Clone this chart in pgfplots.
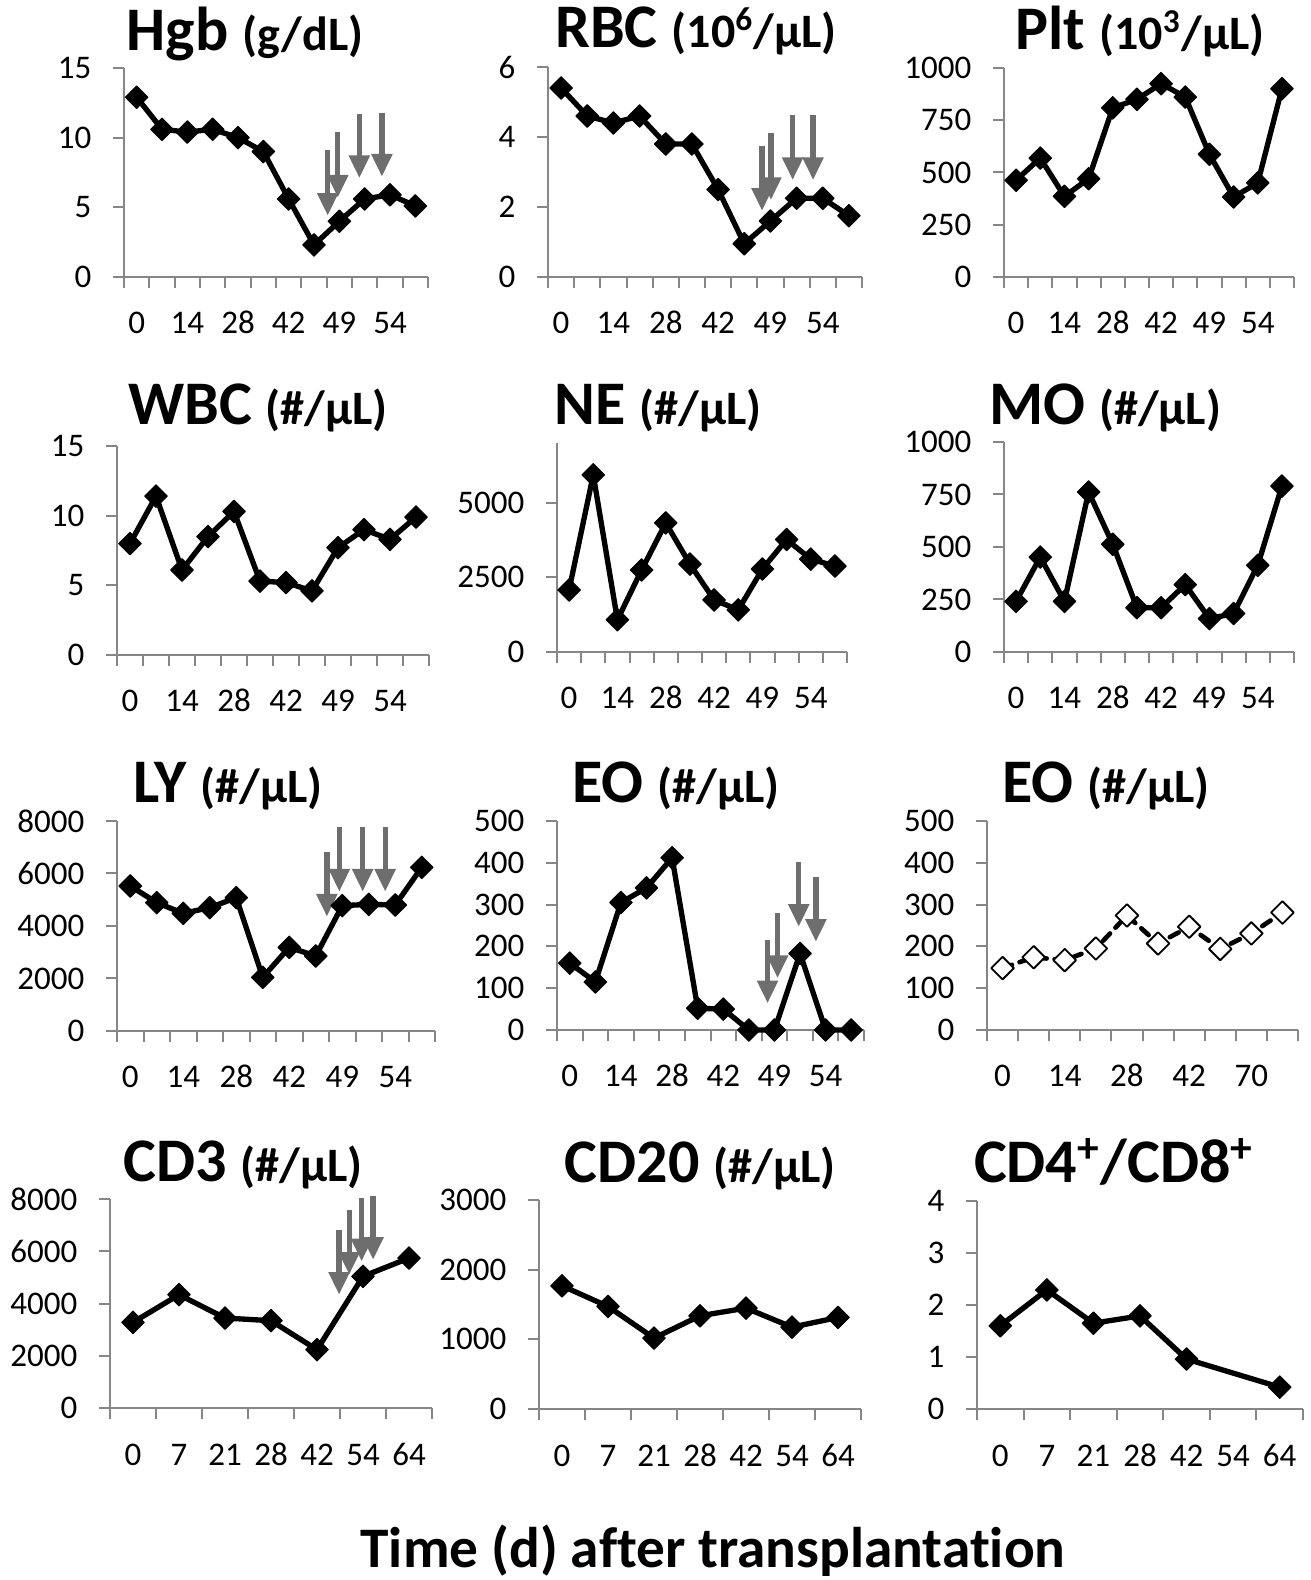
\documentclass[border=0pt]{standalone}
\usepackage{fontspec}
\setmainfont{Carlito}[Ligatures={NoCommon,NoDiscretionary,NoRare}]
\usepackage{pgfplots}
\pgfplotsset{compat=1.18}
\usetikzlibrary{arrows.meta}

\definecolor{axgray}{RGB}{134,134,134}
\definecolor{arrgray}{RGB}{110,110,110}

\newcommand\ttl[2]{{\bfseries\fontsize{18.6}{21}\selectfont #1 \fontsize{14.4}{17}\selectfont #2}}

\tikzset{arr/.style={draw=arrgray, line width=1.6pt, -{Triangle[width=6pt,length=6.8pt]}}}

\pgfplotsset{
  panel/.style={
    scale only axis, anchor=south west, clip=false,
    axis x line*=bottom, axis y line*=left,
    xtick pos=left, ytick pos=left,
    axis line style={axgray, line width=0.6pt},
    tick style={axgray, line width=0.6pt},
    major tick length=3.3pt, minor tick length=3.3pt, tick align=outside,
    major x tick style={draw=none},
    ymin=0,
    tick label style={font=\fontsize{9.9}{11}\selectfont, text=black},
    yticklabel style={anchor=east, inner sep=0pt, xshift=-6.3pt},
    xticklabel style={anchor=base, inner sep=0pt, yshift=-13.8pt},
    /pgf/number format/1000 sep={},
    /pgf/number format/assume math mode=true,
  },
  cat12/.style={xmin=0.5, xmax=12.5, minor xtick={0.5,1.5,...,12.5},
    xtick={1,3,5,7,9,11}, xticklabels={0,14,28,42,49,54}},
  cat10/.style={xmin=0.5, xmax=10.5, minor xtick={0.5,1.5,...,10.5},
    xtick={1,3,5,7,9}, xticklabels={0,14,28,42,70}},
  cat7/.style={xmin=0.5, xmax=7.5, minor xtick={0.5,1.5,...,7.5},
    xtick={1,...,7}, xticklabels={0,7,21,28,42,54,64}},
  dat/.style={black, line width=1.6pt, line join=round,
    mark=square*, mark size=2.4pt,
    mark options={rotate=45, solid, line width=0.3pt, fill=black}},
}

\begin{document}
\begin{tikzpicture}
\path[use as bounding box] (0,0) rectangle (393.3pt,474pt);

% row 1
\begin{axis}[panel, cat12, at={(37.2pt,390.9pt)}, width=91.2pt, height=62.7pt,
  ymax=15, ytick={0,5,10,15}]
  \addplot[dat] coordinates {(1,12.9) (2,10.6) (3,10.4) (4,10.6) (5,10.0) (6,9.0)
    (7,5.6) (8,2.3) (9,4.0) (10,5.6) (11,5.9) (12,5.1)};
  \draw[arr] (axis cs:8.54,9.1) -- (axis cs:8.54,4.4);
  \draw[arr] (axis cs:8.94,10.4) -- (axis cs:8.94,5.7);
  \draw[arr] (axis cs:9.79,11.7) -- (axis cs:9.79,7.1);
  \draw[arr] (axis cs:10.68,11.8) -- (axis cs:10.68,7.2);
\end{axis}

\begin{axis}[panel, cat12, at={(164.4pt,390.9pt)}, width=94.2pt, height=63pt,
  ymax=6, ytick={0,2,4,6}]
  \addplot[dat] coordinates {(1,5.4) (2,4.6) (3,4.4) (4,4.6) (5,3.8) (6,3.8)
    (7,2.5) (8,0.95) (9,1.6) (10,2.25) (11,2.25) (12,1.75)};
  \draw[arr] (axis cs:8.68,3.75) -- (axis cs:8.68,1.89);
  \draw[arr] (axis cs:9.02,4.11) -- (axis cs:9.02,2.2);
  \draw[arr] (axis cs:9.85,4.63) -- (axis cs:9.85,2.77);
  \draw[arr] (axis cs:10.63,4.63) -- (axis cs:10.63,2.77);
\end{axis}

\begin{axis}[panel, cat12, at={(301.2pt,390.9pt)}, width=87pt, height=62.7pt,
  ymax=1000, ytick={0,250,500,750,1000}]
  \addplot[dat] coordinates {(1,463) (2,569) (3,386) (4,470) (5,809) (6,850)
    (7,925) (8,861) (9,587) (10,383) (11,450) (12,901)};
\end{axis}

% row 2
\begin{axis}[panel, cat12, at={(35.1pt,277.5pt)}, width=93.6pt, height=62.7pt,
  ymax=15, ytick={0,5,10,15}]
  \addplot[dat] coordinates {(1,8.0) (2,11.4) (3,6.1) (4,8.5) (5,10.3) (6,5.3)
    (7,5.2) (8,4.6) (9,7.7) (10,9.0) (11,8.3) (12,9.9)};
\end{axis}

\begin{axis}[panel, cat12, at={(167.1pt,278.4pt)}, width=87pt, height=62.7pt,
  ymax=7000, ytick={0,2500,5000}]
  \addplot[dat] coordinates {(1,2078) (2,5933) (3,1078) (4,2744) (5,4322) (6,2944)
    (7,1744) (8,1411) (9,2778) (10,3767) (11,3111) (12,2878)};
\end{axis}

\begin{axis}[panel, cat12, at={(301.2pt,278.4pt)}, width=87pt, height=63pt,
  ymax=1000, ytick={0,250,500,750,1000}]
  \addplot[dat] coordinates {(1,241) (2,452) (3,241) (4,762) (5,513) (6,211)
    (7,211) (8,321) (9,159) (10,183) (11,413) (12,790)};
\end{axis}

% row 3
\begin{axis}[panel, cat12, at={(35.1pt,164.7pt)}, width=95.4pt, height=63pt,
  ymax=8000, ytick={0,2000,4000,6000,8000}]
  \addplot[dat] coordinates {(1,5524) (2,4889) (3,4483) (4,4698) (5,5079) (6,2044)
    (7,3187) (8,2857) (9,4775) (10,4825) (11,4800) (12,6235)};
  \draw[arr] (axis cs:8.42,6832) -- (axis cs:8.42,4356);
  \draw[arr] (axis cs:8.89,7784) -- (axis cs:8.89,5308);
  \draw[arr] (axis cs:9.77,7784) -- (axis cs:9.77,5308);
  \draw[arr] (axis cs:10.62,7784) -- (axis cs:10.62,5308);
\end{axis}

\begin{axis}[panel, cat12, at={(167.1pt,165pt)}, width=92.1pt, height=62.7pt,
  ymax=500, ytick={0,100,...,500}]
  \addplot[dat] coordinates {(1,160) (2,115) (3,305) (4,340) (5,412) (6,52)
    (7,50) (8,0) (9,0) (10,183) (11,0) (12,0)};
  \draw[arr] (axis cs:8.73,215) -- (axis cs:8.73,64);
  \draw[arr] (axis cs:9.12,279) -- (axis cs:9.12,124);
  \draw[arr] (axis cs:9.95,403) -- (axis cs:9.95,247);
  \draw[arr] (axis cs:10.62,367) -- (axis cs:10.62,211);
\end{axis}

\begin{axis}[panel, cat10, at={(296.1pt,165pt)}, width=93.3pt, height=62.7pt,
  ymax=500, ytick={0,100,...,500}]
  \addplot[dat, line width=1.4pt, dash pattern=on 3pt off 2.4pt, line cap=round,
    mark options={rotate=45, solid, line width=0.55pt, fill=white, draw=black}]
    coordinates {(1,148) (2,174) (3,167) (4,195) (5,274) (6,207)
    (7,247) (8,194) (9,231) (10,281)};
\end{axis}

% row 4
\begin{axis}[panel, cat7, at={(33pt,51.6pt)}, width=96.6pt, height=62.7pt,
  ymax=8000, ytick={0,2000,4000,6000,8000}]
  \addplot[dat] coordinates {(1,3278) (2,4337) (3,3444) (4,3342) (5,2232)
    (6,5038) (7,5740)};
  \draw[arr] (axis cs:5.48,6824) -- (axis cs:5.48,4337);
  \draw[arr] (axis cs:5.70,7589) -- (axis cs:5.70,5102);
  \draw[arr] (axis cs:5.97,8036) -- (axis cs:5.97,5612);
  \draw[arr] (axis cs:6.22,8099) -- (axis cs:6.22,5676);
\end{axis}

\begin{axis}[panel, cat7, at={(161.7pt,51.3pt)}, width=96.6pt, height=62.7pt,
  ymax=3000, ytick={0,1000,2000,3000}]
  \addplot[dat] coordinates {(1,1768) (2,1472) (3,1018) (4,1338) (5,1448)
    (6,1175) (7,1314)};
\end{axis}

\begin{axis}[panel, cat7, at={(293.1pt,51.3pt)}, width=97.8pt, height=62.4pt,
  ymax=4, ytick={0,1,2,3,4}]
  \addplot[dat] coordinates {(1,1.60) (2,2.29) (3,1.65) (4,1.79) (5,0.96) (7,0.42)};
\end{axis}

% titles
\node[anchor=base] at (73.5pt,458.7pt) {\ttl{Hgb}{(g/dL)}};
\node[anchor=base] at (208.8pt,459.6pt) {\ttl{RBC}{(10\textsuperscript{6}/µL)}};
\node[anchor=base] at (342pt,459pt) {\ttl{Plt}{(10\textsuperscript{3}/µL)}};
\node[anchor=base] at (77.4pt,346.5pt) {\ttl{WBC}{(\#/µL)}};
\node[anchor=base] at (197.4pt,346.5pt) {\ttl{NE}{(\#/µL)}};
\node[anchor=base] at (331.5pt,346.5pt) {\ttl{MO}{(\#/µL)}};
\node[anchor=base] at (68.4pt,233.1pt) {\ttl{LY}{(\#/µL)}};
\node[anchor=base] at (202.8pt,233.1pt) {\ttl{EO}{(\#/µL)}};
\node[anchor=base] at (331.8pt,233.1pt) {\ttl{EO}{(\#/µL)}};
\node[anchor=base] at (72.9pt,119.4pt) {\ttl{CD3}{(\#/µL)}};
\node[anchor=base] at (210pt,119.1pt) {\ttl{CD20}{(\#/µL)}};
\node[anchor=base] at (334.2pt,119.1pt) {\bfseries\fontsize{18.6}{21}\selectfont CD4\textsuperscript{+}/CD8\textsuperscript{+}};

\node[anchor=base] at (213.9pt,3.6pt) {\bfseries\fontsize{17.2}{20}\selectfont Time (d) after transplantation};
\end{tikzpicture}
\end{document}
